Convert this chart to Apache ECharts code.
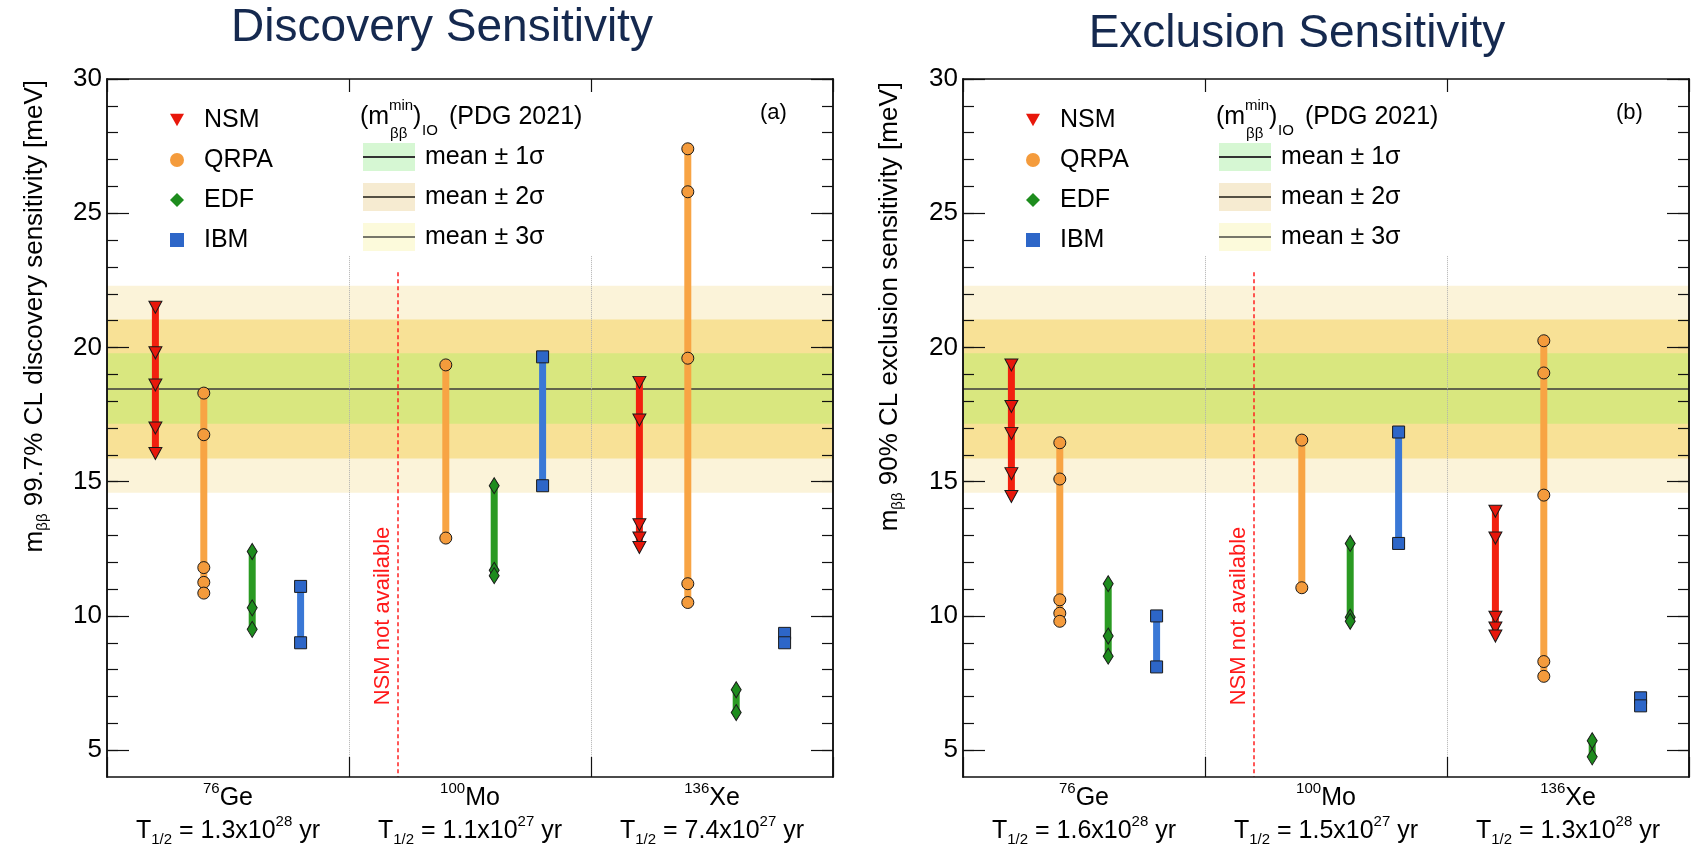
<!DOCTYPE html>
<html><head><meta charset="utf-8">
<script src="https://cdn.jsdelivr.net/npm/echarts@6/dist/echarts.min.js"></script>
<style>html,body{margin:0;padding:0;background:#fff}#c{width:1695px;height:849px}</style>
</head><body><div id="c"></div>
<script>
// ---------------- data ----------------
const massNumbers = ['76', '100', '136'];
const elements = ['Ge', 'Mo', 'Xe'];
const halfLifeDisc = [['1.3', '28'], ['1.1', '27'], ['7.4', '27']];
const halfLifeExcl = [['1.6', '28'], ['1.5', '27'], ['1.3', '28']];
const models = ['NSM', 'QRPA', 'EDF', 'IBM'];

// discovery sensitivity (99.7% CL), meV — per isotope [Ge, Mo, Xe]
const nsmDisc  = [[21.5, 19.8, 18.6, 17.0, 16.05], [], [18.7, 17.3, 13.4, 12.9, 12.55]];
const qrpaDisc = [[18.3, 16.75, 11.8, 11.25, 10.85], [19.35, 12.9], [27.4, 25.8, 19.6, 11.2, 10.5]];
const edfDisc  = [[12.4, 10.3, 9.5], [14.85, 11.7, 11.5], [7.25, 6.4]];
const ibmDisc  = [[11.1, 9.0], [19.65, 14.85], [9.35, 9.0]];

// exclusion sensitivity (90% CL), meV
const nsmExcl  = [[19.35, 17.8, 16.8, 15.3, 14.45], [], [13.9, 12.9, 9.95, 9.55, 9.25]];
const qrpaExcl = [[16.45, 15.1, 10.6, 10.1, 9.8], [16.55, 11.05], [20.25, 19.05, 14.5, 8.3, 7.75]];
const edfExcl  = [[11.2, 9.25, 8.5], [12.7, 9.95, 9.8], [5.35, 4.75]];
const ibmExcl  = [[10.0, 8.1], [16.85, 12.7], [6.95, 6.65]];

// (m_bb^min)_IO PDG 2021 bands
const bandMean = 18.47;
const band1 = [17.16, 19.78];
const band2 = [15.86, 21.04];
const band3 = [14.59, 22.3];
const bandLabels = ['mean \u00b1 1\u03c3', 'mean \u00b1 2\u03c3', 'mean \u00b1 3\u03c3'];

const yMajorTicks = [5, 10, 15, 20, 25, 30];
const yMinorTicks = [5, 6, 7, 8, 9, 10, 11, 12, 13, 14, 15, 16, 17, 18, 19, 20, 21, 22, 23, 24, 25, 26, 27, 28, 29, 30];
const yMin = 4, yMax = 30;
const dividerTop = 23.4;
const nsmMissingTop = 22.8;

// ---------------- style ----------------
const FONT = '"Liberation Sans", Arial, Helvetica, sans-serif';
const modelStyle = {
  NSM:  {line: '#f2200f', fill: '#e8170b', symbol: 'triangle', size: [13, 12], rotate: 180,
         icon: 'path://M0,0 L10,0 L5,9 Z'},
  QRPA: {line: '#f8a444', fill: '#f49b3c', symbol: 'circle', size: 12, rotate: 0, icon: 'circle'},
  EDF:  {line: '#2a9a22', fill: '#1d8c1d', symbol: 'diamond', size: [10, 16], rotate: 0, icon: 'diamond'},
  IBM:  {line: '#3a78d6', fill: '#2d66c8', symbol: 'rect', size: 12, rotate: 0, icon: 'rect'}
};
const bandColors = ['#d9e77f', '#f8e196', '#fbf3d9'];
const swatchColors = ['#d6f7d3', '#f6ebd1', '#fcfadb'];
const swatchLine = ['#333333', '#555044', '#77776a'];

const grids = [
  {left: 107, top: 79, width: 726, height: 698},
  {left: 963, top: 79, width: 726, height: 698}
];
const panelShift = [0, 856];

const chart = echarts.init(document.getElementById('c'), null, {renderer: 'canvas'});

const xAxes = [], yAxes = [], series = [], graphics = [], legends = [];

function buildPanel(gi, data, halfLives) {
  const xi = gi * 3, yi = gi * 4;
  // x axes
  xAxes.push({gridIndex: gi, type: 'value', min: 0, max: 3, interval: 1, position: 'bottom', z: 10,
    axisLine: {show: true, lineStyle: {color: '#111', width: 1.5}},
    axisTick: {show: true, inside: true, length: 20, lineStyle: {color: '#111', width: 1.2}},
    axisLabel: {show: false}, splitLine: {show: false}});
  xAxes.push({gridIndex: gi, type: 'value', min: 0, max: 3, interval: 1, position: 'top', z: 10,
    axisLine: {show: true, lineStyle: {color: '#111', width: 1.5}},
    axisTick: {show: true, inside: true, length: 13, lineStyle: {color: '#111', width: 1.2}},
    axisLabel: {show: false}, splitLine: {show: false}});
  xAxes.push({gridIndex: gi, type: 'category', position: 'bottom', data: ['0', '1', '2'],
    axisLine: {show: false}, axisTick: {show: false}, splitLine: {show: false},
    axisLabel: {show: true, interval: 0, margin: 4.5, color: '#000',
      formatter: function (v, idx) {
        const hl = halfLives[idx];
        return '{sup|' + massNumbers[idx] + '}{big|' + elements[idx] + '}\n' +
               '{big|T}{sub|1/2}{big| = ' + hl[0] + 'x10}{sup|' + hl[1] + '}{big| yr}';
      },
      rich: {
        big: {fontFamily: FONT, fontSize: 25, lineHeight: 33, color: '#000', verticalAlign: 'middle'},
        sup: {fontFamily: FONT, fontSize: 15, lineHeight: 15, color: '#000', verticalAlign: 'top'},
        sub: {fontFamily: FONT, fontSize: 15, lineHeight: 15, color: '#000', verticalAlign: 'bottom'}
      }}});
  // y axes
  const yBase = {gridIndex: gi, type: 'value', min: yMin, max: yMax, z: 10, splitLine: {show: false},
    axisLine: {show: true, lineStyle: {color: '#111', width: 1.5}}};
  yAxes.push(Object.assign({}, yBase, {position: 'left',
    axisTick: {show: true, inside: true, length: 11, customValues: yMinorTicks, lineStyle: {color: '#111', width: 1.2}},
    axisLabel: {show: true, customValues: yMajorTicks, margin: 5, color: '#000', fontFamily: FONT, fontSize: 26}}));
  yAxes.push(Object.assign({}, yBase, {position: 'left',
    axisTick: {show: true, inside: true, length: 22, customValues: yMajorTicks, lineStyle: {color: '#111', width: 1.2}},
    axisLabel: {show: false}}));
  yAxes.push(Object.assign({}, yBase, {position: 'right',
    axisTick: {show: true, inside: true, length: 11, customValues: yMinorTicks, lineStyle: {color: '#111', width: 1.2}},
    axisLabel: {show: false}}));
  yAxes.push(Object.assign({}, yBase, {position: 'right',
    axisTick: {show: true, inside: true, length: 22, customValues: yMajorTicks, lineStyle: {color: '#111', width: 1.2}},
    axisLabel: {show: false}}));

  // bands + mean line
  series.push({type: 'line', xAxisIndex: xi, yAxisIndex: yi, data: [], silent: true, z: 1, animation: false,
    markArea: {silent: true, data: [
      [{yAxis: band3[0], itemStyle: {color: bandColors[2]}}, {yAxis: band3[1]}],
      [{yAxis: band2[0], itemStyle: {color: bandColors[1]}}, {yAxis: band2[1]}],
      [{yAxis: band1[0], itemStyle: {color: bandColors[0]}}, {yAxis: band1[1]}]
    ]},
    markLine: {silent: true, symbol: ['none', 'none'], label: {show: false},
      lineStyle: {color: '#3a3a3a', width: 1.6, type: 'solid'},
      data: [{yAxis: bandMean}]}
  });
  // dividers and "NSM not available" line
  series.push({type: 'line', xAxisIndex: xi, yAxisIndex: yi, data: [], silent: true, z: 2, animation: false,
    markLine: {silent: true, symbol: ['none', 'none'], label: {show: false},
      data: [
        [{coord: [1, dividerTop], lineStyle: {color: '#b0b0b0', width: 1, type: 'dotted'}}, {coord: [1, yMin]}],
        [{coord: [2, dividerTop], lineStyle: {color: '#b0b0b0', width: 1, type: 'dotted'}}, {coord: [2, yMin]}],
        [{coord: [1.2, nsmMissingTop], lineStyle: {color: '#ff2020', width: 1.5, type: [4, 3]}}, {coord: [1.2, yMin]}]
      ]}
  });
  // model series
  models.forEach(function (m, k) {
    const st = modelStyle[m];
    data[k].forEach(function (vals, i) {
      if (!vals.length) return;
      series.push({type: 'line', name: m, xAxisIndex: xi, yAxisIndex: yi, z: 5, silent: true, animation: false,
        data: vals.map(function (v) { return [i + 0.2 * (k + 1), v]; }),
        symbol: st.symbol, symbolSize: st.size, symbolRotate: st.rotate, showAllSymbol: true,
        lineStyle: {color: st.line, width: 7},
        itemStyle: {color: st.fill, borderColor: '#1a1a1a', borderWidth: 1},
        emphasis: {disabled: true}});
    });
  });

  const sx = panelShift[gi];
  // model legend
  legends.push({orient: 'vertical', left: 165 + sx, top: 100, itemWidth: 14, itemHeight: 14, itemGap: 10,
    selectedMode: false, itemStyle: {borderWidth: 0},
    textStyle: {fontFamily: FONT, fontSize: 25, lineHeight: 30, color: '#000', padding: [0, 0, 0, 15]},
    data: models.map(function (m) { return {name: m, icon: modelStyle[m].icon}; })});

  // band legend header
  const hs = {fontFamily: FONT, fill: '#000'};
  graphics.push({type: 'text', x: 360 + sx, y: 117, style: Object.assign({text: '(m', fontSize: 25, verticalAlign: 'middle'}, hs)});
  graphics.push({type: 'text', x: 389 + sx, y: 106, style: Object.assign({text: 'min', fontSize: 15, verticalAlign: 'middle'}, hs)});
  graphics.push({type: 'text', x: 390 + sx, y: 134, style: Object.assign({text: '\u03b2\u03b2', fontSize: 15, verticalAlign: 'middle'}, hs)});
  graphics.push({type: 'text', x: 413 + sx, y: 117, style: Object.assign({text: ')', fontSize: 25, verticalAlign: 'middle'}, hs)});
  graphics.push({type: 'text', x: 422 + sx, y: 131, style: Object.assign({text: 'IO', fontSize: 15, verticalAlign: 'middle'}, hs)});
  graphics.push({type: 'text', x: 449 + sx, y: 117, style: Object.assign({text: '(PDG 2021)', fontSize: 25, verticalAlign: 'middle'}, hs)});
  [157, 197, 237].forEach(function (cy, r) {
    graphics.push({type: 'rect', shape: {x: 363 + sx, y: cy - 14, width: 52, height: 28}, style: {fill: swatchColors[r]}});
    graphics.push({type: 'line', shape: {x1: 363 + sx, y1: cy, x2: 415 + sx, y2: cy}, style: {stroke: swatchLine[r], lineWidth: 2}});
    graphics.push({type: 'text', x: 425 + sx, y: cy, style: Object.assign({text: bandLabels[r], fontSize: 25, verticalAlign: 'middle'}, hs)});
  });
  graphics.push({type: 'text', x: 760 + sx, y: 113, style: Object.assign({text: gi === 0 ? '(a)' : '(b)', fontSize: 22, verticalAlign: 'middle'}, hs)});
  // NSM not available
  graphics.push({type: 'text', x: 383 + sx, y: 616, rotation: Math.PI / 2,
    style: {text: 'NSM not available', fontFamily: FONT, fontSize: 22, fill: '#ff1a1a', align: 'center', verticalAlign: 'middle'}});
}

buildPanel(0, [nsmDisc, qrpaDisc, edfDisc, ibmDisc], halfLifeDisc);
buildPanel(1, [nsmExcl, qrpaExcl, edfExcl, ibmExcl], halfLifeExcl);

// y-axis titles
const yRich = {
  a: {fontFamily: FONT, fontSize: 26, fill: '#000', color: '#000', lineHeight: 30},
  s: {fontFamily: FONT, fontSize: 15, fill: '#000', color: '#000', lineHeight: 15, verticalAlign: 'bottom'}
};
graphics.push({type: 'text', x: 35, y: 80, rotation: Math.PI / 2,
  style: {text: '{a|m}{s|\u03b2\u03b2}{a| 99.7% CL discovery sensitivity [meV]}', rich: yRich, align: 'right', verticalAlign: 'middle'}});
graphics.push({type: 'text', x: 890, y: 82, rotation: Math.PI / 2,
  style: {text: '{a|m}{s|\u03b2\u03b2}{a| 90% CL exclusion sensitivity [meV]}', rich: yRich, align: 'right', verticalAlign: 'middle'}});
// panel titles
graphics.push({type: 'text', x: 442, y: 28, style: {text: 'Discovery Sensitivity', fontFamily: FONT, fontSize: 46, fill: '#15294f', align: 'center', verticalAlign: 'middle'}});
graphics.push({type: 'text', x: 1297, y: 34, style: {text: 'Exclusion Sensitivity', fontFamily: FONT, fontSize: 46, fill: '#15294f', align: 'center', verticalAlign: 'middle'}});

chart.setOption({
  animation: false,
  backgroundColor: '#ffffff',
  grid: grids,
  xAxis: xAxes,
  yAxis: yAxes,
  legend: legends,
  series: series,
  graphic: graphics
});
</script>
</body></html>
